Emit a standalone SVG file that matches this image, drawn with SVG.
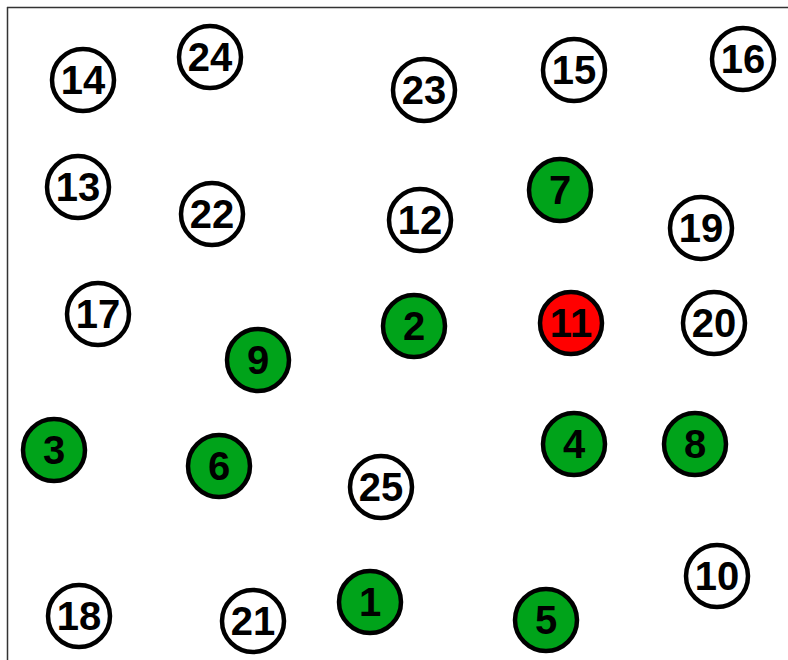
<svg xmlns="http://www.w3.org/2000/svg" width="788" height="660" viewBox="0 0 788 660">
<style>
.n circle{stroke:#000;stroke-width:4.5}
.w circle{fill:#fff}
.g circle{fill:#00a31a}
.r circle{fill:#ff0000}
.n text{font-family:"Liberation Sans",Arial,sans-serif;font-weight:bold;font-size:40px;fill:#000;text-anchor:middle}
</style>
<rect width="788" height="660" fill="#fff"/>
<g id="frame" stroke="#333" stroke-width="1.5" fill="none">
<line x1="7" y1="7.5" x2="788" y2="7.5"/>
<line x1="7.5" y1="7" x2="7.5" y2="660"/>
</g>
<g id="connectors"></g>
<g id="n14" class="n w"><circle cx="83" cy="80" r="31"/><text x="83" y="94">14</text></g>
<g id="n24" class="n w"><circle cx="210" cy="57" r="31"/><text x="210" y="71">24</text></g>
<g id="n23" class="n w"><circle cx="424" cy="90" r="31"/><text x="424" y="104">23</text></g>
<g id="n15" class="n w"><circle cx="574" cy="70" r="31"/><text x="574" y="84">15</text></g>
<g id="n16" class="n w"><circle cx="743" cy="59" r="31"/><text x="743" y="73">16</text></g>
<g id="n13" class="n w"><circle cx="78" cy="187" r="31"/><text x="78" y="201">13</text></g>
<g id="n22" class="n w"><circle cx="212" cy="214" r="31"/><text x="212" y="228">22</text></g>
<g id="n12" class="n w"><circle cx="420" cy="220" r="31"/><text x="420" y="234">12</text></g>
<g id="n7" class="n g"><circle cx="560" cy="190" r="31"/><text x="560" y="204">7</text></g>
<g id="n19" class="n w"><circle cx="701" cy="228" r="31"/><text x="701" y="242">19</text></g>
<g id="n17" class="n w"><circle cx="98" cy="314" r="31"/><text x="98" y="328">17</text></g>
<g id="n9" class="n g"><circle cx="258" cy="360" r="31"/><text x="258" y="374">9</text></g>
<g id="n2" class="n g"><circle cx="414" cy="326" r="31"/><text x="414" y="340">2</text></g>
<g id="n11" class="n r"><circle cx="571" cy="323" r="31"/><text x="571" y="337">11</text></g>
<g id="n20" class="n w"><circle cx="714" cy="323" r="31"/><text x="714" y="337">20</text></g>
<g id="n3" class="n g"><circle cx="54" cy="450" r="31"/><text x="54" y="464">3</text></g>
<g id="n6" class="n g"><circle cx="219" cy="466" r="31"/><text x="219" y="480">6</text></g>
<g id="n4" class="n g"><circle cx="574" cy="444" r="31"/><text x="574" y="458">4</text></g>
<g id="n8" class="n g"><circle cx="695" cy="444" r="31"/><text x="695" y="458">8</text></g>
<g id="n25" class="n w"><circle cx="381" cy="487" r="31"/><text x="381" y="501">25</text></g>
<g id="n10" class="n w"><circle cx="717" cy="576" r="31"/><text x="717" y="590">10</text></g>
<g id="n18" class="n w"><circle cx="79" cy="616" r="31"/><text x="79" y="630">18</text></g>
<g id="n21" class="n w"><circle cx="253" cy="621" r="31"/><text x="253" y="635">21</text></g>
<g id="n1" class="n g"><circle cx="370" cy="602" r="31"/><text x="370" y="616">1</text></g>
<g id="n5" class="n g"><circle cx="546" cy="620" r="31"/><text x="546" y="634">5</text></g>
</svg>
